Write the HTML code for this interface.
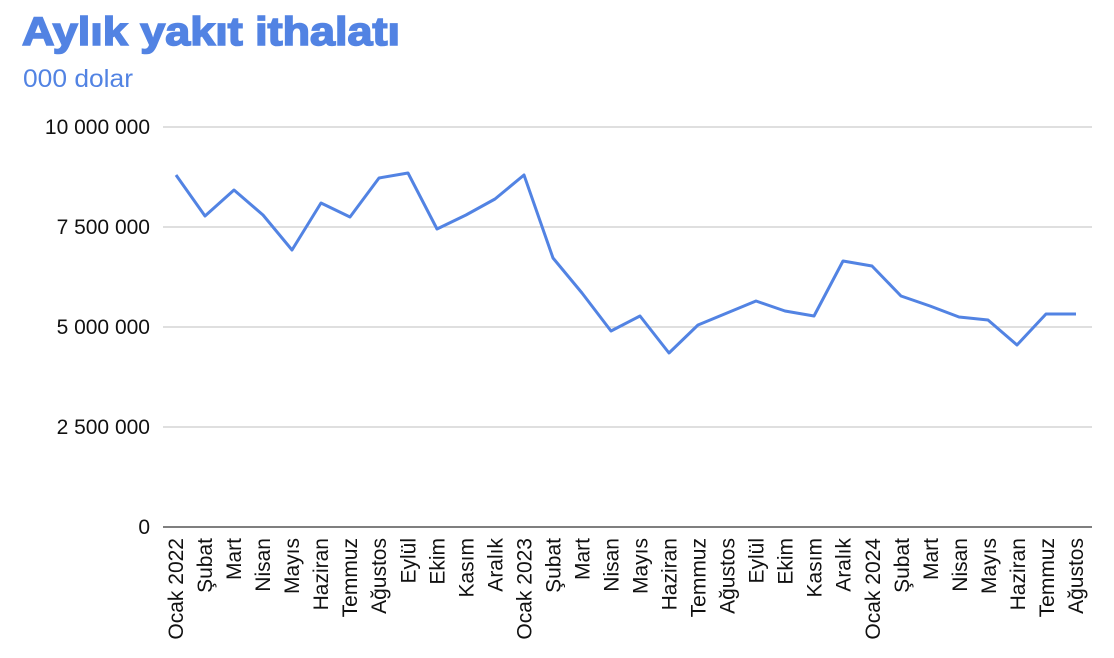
<!DOCTYPE html>
<html><head><meta charset="utf-8"><style>
body{margin:0;background:#fff;}
svg{display:block;font-family:"Liberation Sans",Arial,sans-serif;}
</style></head><body>
<svg width="1114" height="658" viewBox="0 0 1114 658" xmlns="http://www.w3.org/2000/svg">
<text x="22" y="45" font-size="40" font-weight="900" fill="#5283e3" stroke="#5283e3" stroke-width="1.6" textLength="378" lengthAdjust="spacingAndGlyphs">Aylık yakıt ithalatı</text>
<text x="23" y="87" font-size="25" fill="#5283e3" textLength="110" lengthAdjust="spacingAndGlyphs">000 dolar</text>
<g stroke="#cccccc" stroke-width="1.3">
<line x1="163" y1="127" x2="1092" y2="127"/>
<line x1="163" y1="227" x2="1092" y2="227"/>
<line x1="163" y1="327" x2="1092" y2="327"/>
<line x1="163" y1="427" x2="1092" y2="427"/>
</g>
<line x1="163" y1="527" x2="1092" y2="527" stroke="#333" stroke-width="1.3"/>
<g font-size="21" fill="#111" text-anchor="end">
<text x="150" y="134">10 000 000</text>
<text x="150" y="234">7 500 000</text>
<text x="150" y="334">5 000 000</text>
<text x="150" y="434">2 500 000</text>
<text x="150" y="534">0</text>
</g>
<polyline fill="none" stroke="#5283e3" stroke-width="3" stroke-linejoin="round" points="176,175 205,216 234,190 263,215 292,250 321,203 350,217 379,178 408,173 437,229 466,215 495,199 524,175 553,258 582,293 611,331 640,316 669,353 698,325 727,313 756,301 785,311 814,316 843,261 872,266 901,296 930,306 959,317 988,320 1017,345 1046,314 1076,314"/>
<g font-size="21" fill="#111" text-anchor="end" id="xl"></g>
</svg>
<script>
var n=["Ocak 2022","Şubat","Mart","Nisan","Mayıs","Haziran","Temmuz","Ağustos","Eylül","Ekim","Kasım","Aralık","Ocak 2023","Şubat","Mart","Nisan","Mayıs","Haziran","Temmuz","Ağustos","Eylül","Ekim","Kasım","Aralık","Ocak 2024","Şubat","Mart","Nisan","Mayıs","Haziran","Temmuz","Ağustos"];
var g=document.getElementById("xl");
n.forEach(function(s,i){var x=176+i*900/31+7;var t=document.createElementNS("http://www.w3.org/2000/svg","text");t.setAttribute("transform","translate("+x.toFixed(1)+",538) rotate(-90)");t.textContent=s;g.appendChild(t);});
</script>
</body></html>
